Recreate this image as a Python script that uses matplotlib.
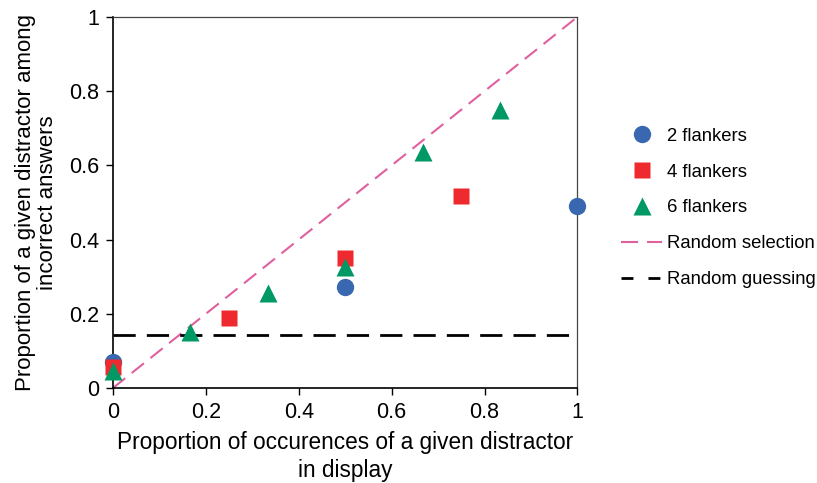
import matplotlib
matplotlib.use("Agg")
import matplotlib.pyplot as plt
from matplotlib.lines import Line2D

plt.rcParams['font.family'] = ['Liberation Sans', 'DejaVu Sans']

x2 = [0, 0.5, 1.0]
y2 = [0.07, 0.272, 0.49]
x4 = [0, 0.25, 0.5, 0.75]
y4 = [0.057, 0.189, 0.35, 0.517]
x6 = [0, 1/6, 1/3, 0.5, 2/3, 5/6]
y6 = [0.045, 0.152, 0.256, 0.326, 0.636, 0.75]
guess_level = 1/7
xticks = [0, 0.2, 0.4, 0.6, 0.8, 1]
xticklabels = ['0', '0.2', '0.4', '0.6', '0.8', '1']

fig = plt.figure(figsize=(8.17, 4.83), dpi=100)
ax = fig.add_axes([0.1383, 0.1967, 0.5685, 0.7683])

ax.plot([0, 1], [0, 1], color='#e0609f', lw=1.5, dashes=(7.5, 4), zorder=2)
ax.axhline(guess_level, color='black', lw=2, dashes=(8, 4), zorder=2)
h2, = ax.plot(x2, y2, 'o', color='#3a68b0', ms=12.5, mec='none', label='2 flankers', clip_on=False, zorder=3)
h4, = ax.plot(x4, y4, 's', color='#ee2a2f', ms=11.5, mec='none', label='4 flankers', clip_on=False, zorder=4)
h6, = ax.plot(x6, y6, '^', color='#009966', ms=13.5, mec='none', label='6 flankers', clip_on=False, zorder=5)

ax.set_xlim(0, 1)
ax.set_ylim(0, 1)
ax.set_xticks(xticks)
ax.set_xticklabels(xticklabels)
ax.set_yticks(xticks)
ax.set_yticklabels(xticklabels)
ax.tick_params(direction='out', length=5, labelsize=15.5, width=1, pad=5)
for s in ['left', 'bottom']:
    ax.spines[s].set_linewidth(1.2)
for s in ['top', 'right']:
    ax.spines[s].set_linewidth(0.9)
    ax.spines[s].set_color('#444444')

ax.set_xlabel('Proportion of occurences of a given distractor\nin display', fontsize=16.3, labelpad=6,
              linespacing=1.25)
ax.set_ylabel('Proportion of a given distractor among\nincorrect answers', fontsize=16, labelpad=8,
              linespacing=1.05)

hsel = Line2D([], [], color='#e0609f', lw=1.5, dashes=(8.2, 4.3))
hgue = Line2D([], [], color='black', lw=2, dashes=(4.3, 5.4))
fig.legend([h2, h4, h6, hsel, hgue],
           ['2 flankers', '4 flankers', '6 flankers', 'Random selection', 'Random guessing'],
           loc='upper left', bbox_to_anchor=(0.74, 0.77), frameon=False,
           fontsize=13.3, handlelength=2.2, labelspacing=1.02, handletextpad=0.3,
           numpoints=1)

fig.savefig('out.png', dpi=100)
